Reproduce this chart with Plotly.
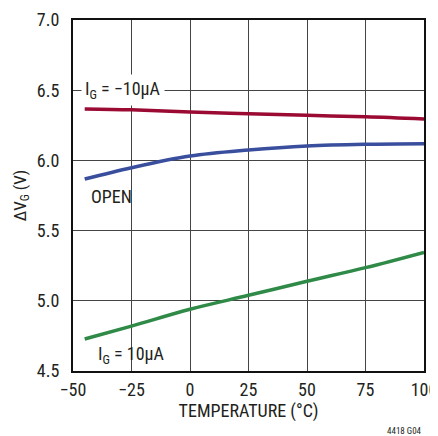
import plotly.graph_objects as go

temp = [-45, -25, 0, 25, 50, 75, 100]
ig_neg10 = [6.366, 6.360, 6.345, 6.333, 6.321, 6.311, 6.295]
open_v = [5.867, 5.948, 6.031, 6.074, 6.103, 6.115, 6.119]
ig_pos10 = [4.728, 4.820, 4.940, 5.039, 5.139, 5.236, 5.345]

x_ticks = [-50, -25, 0, 25, 50, 75, 100]
x_tick_labels = ["−50", "−25", "0", "25", "50", "75", "100"]
y_ticks = [4.5, 5.0, 5.5, 6.0, 6.5, 7.0]
y_tick_labels = ["4.5", "5.0", "5.5", "6.0", "6.5", "7.0"]

FONT = "Liberation Sans Narrow, Roboto Condensed, Arial Narrow, sans-serif"
TXT = "#231f20"

fig = go.Figure()
for y, c in [(ig_neg10, "#9b0a32"), (open_v, "#3a4e9e"), (ig_pos10, "#2f8a48")]:
    fig.add_trace(go.Scatter(x=temp, y=y, mode="lines",
                             line=dict(color=c, width=3.5, shape="spline"),
                             showlegend=False, hoverinfo="skip"))

fig.add_annotation(x=-46.5, y=6.5, xanchor="left", yanchor="middle",
                   text="I<sub>G</sub> = −10µA", showarrow=False,
                   bgcolor="white", borderpad=3,
                   font=dict(family=FONT, size=18, color=TXT))
fig.add_annotation(x=-43, y=5.74, xanchor="left", yanchor="middle",
                   text="OPEN", showarrow=False,
                   font=dict(family=FONT, size=18, color=TXT))
fig.add_annotation(x=-40, y=4.615, xanchor="left", yanchor="middle",
                   text="I<sub>G</sub> = 10µA", showarrow=False,
                   font=dict(family=FONT, size=18, color=TXT))
fig.add_annotation(x=1.0, y=0, xref="paper", yref="paper", yshift=-53,
                   xanchor="right", yanchor="top", text="4418 G04",
                   showarrow=False, font=dict(family=FONT, size=9, color=TXT))

# the page body has an 8px margin, so the figure is 8px smaller and offset
fig.update_layout(
    width=430, height=428,
    margin=dict(l=65, r=14, t=12, b=65),
    paper_bgcolor="white", plot_bgcolor="white",
    font=dict(family=FONT, size=18, color=TXT),
    xaxis=dict(range=[-50, 100], tickvals=x_ticks, ticktext=x_tick_labels,
               showgrid=True, gridcolor="#444444", gridwidth=1,
               showline=True, linecolor="#111111", linewidth=2, mirror=True,
               zeroline=False, ticks="", ticklen=0, automargin=False,
               ticklabelstandoff=1, ticklabeloverflow="allow",
               title=dict(text="TEMPERATURE (°C)", font=dict(size=18), standoff=4)),
    yaxis=dict(range=[4.5, 7.0], tickvals=y_ticks, ticktext=y_tick_labels,
               showgrid=True, gridcolor="#444444", gridwidth=1,
               showline=True, linecolor="#111111", linewidth=2, mirror=True,
               zeroline=False, ticks="", ticklen=0, automargin=False,
               ticklabelstandoff=8,
               title=dict(text="ΔV<sub>G</sub> (V)", font=dict(size=17), standoff=6)),
)

fig.write_html("out.html")
